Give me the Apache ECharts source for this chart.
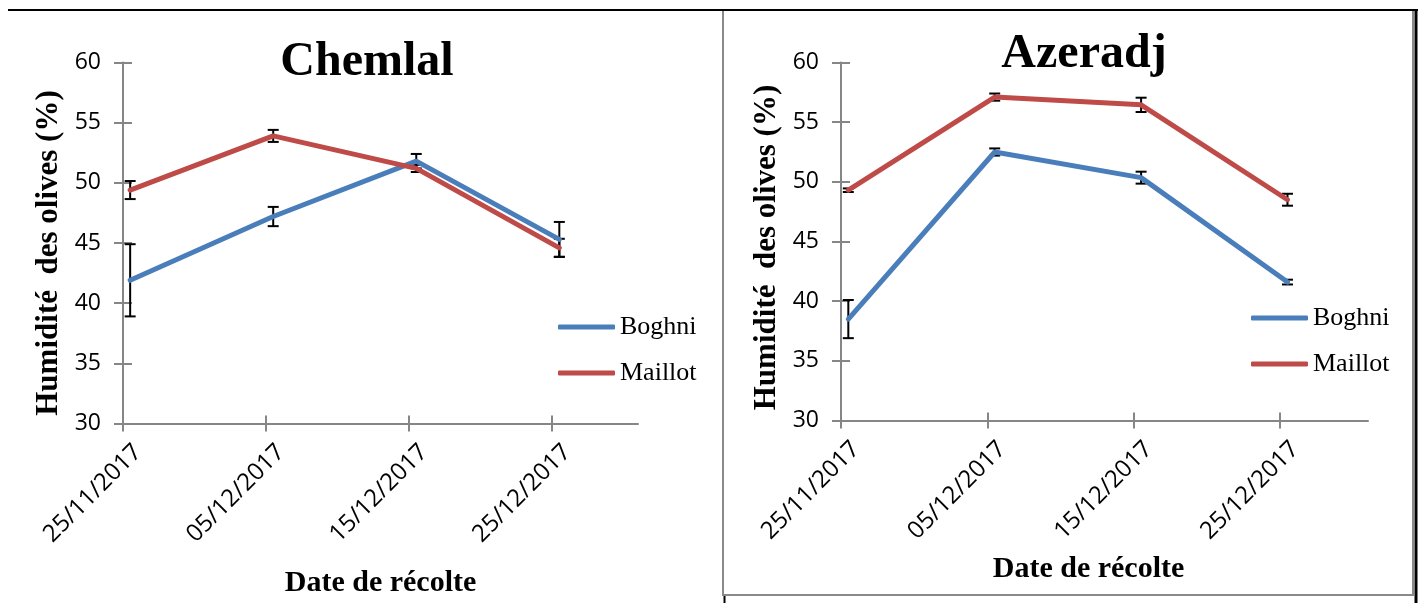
<!DOCTYPE html>
<html>
<head>
<meta charset="utf-8">
<script src="https://cdn.jsdelivr.net/npm/echarts@6/dist/echarts.min.js"></script>
<style>
html,body{margin:0;padding:0;background:#fff;}
#chart{width:1422px;height:603px;}
</style>
</head>
<body>
<div id="chart"></div>
<script>
// ---- data ----
const dates = ['25/11/2017', '05/12/2017', '15/12/2017', '25/12/2017'];
const tickLabels = ['25/11/2017', '05/12/2017', '15/12/2017', '25/12/2017'];
const axisEndDate = '31/12/2017';
const yTicks = [30, 35, 40, 45, 50, 55, 60];
const seriesNames = ['Boghni', 'Maillot'];
const panelTitles = ['Chemlal', 'Azeradj'];

const chemlalBoghni = [41.9, 47.2, 51.8, 45.3];
const chemlalBoghniErr = [3.0, 0.8, 0.6, 1.45];
const chemlalMaillot = [49.4, 53.9, 51.2, 44.6];
const chemlalMaillotErr = [0.75, 0.5, 0.3, 0.75];

const azeradjBoghni = [38.5, 52.5, 50.35, 41.6];
const azeradjBoghniErr = [1.6, 0.3, 0.5, 0.2];
const azeradjMaillot = [49.3, 57.1, 56.45, 48.5];
const azeradjMaillotErr = [0.15, 0.3, 0.6, 0.5];

// ---- helpers ----
function dayNum(s) {
  const p = s.split('/');
  return Date.UTC(+p[2], +p[1] - 1, +p[0]) / 86400000;
}
const day0 = dayNum(dates[0]);
const xMax = dayNum(axisEndDate) - day0;
// Excel date axis: points sit in the middle of their day
const xs = dates.map(d => dayNum(d) - day0 + 0.5);
const tickVals = tickLabels.map(d => dayNum(d) - day0);

const BLUE = '#4a7ebb';
const RED = '#be4b48';
const AXIS = '#868686';
const SERIF = '"Liberation Serif", "Times New Roman", serif';
const SANS = '"Open Sans", "Noto Sans", sans-serif';

const grids = [
  { left: 123, top: 62.5, width: 515, height: 361, outerBoundsMode: 'none', containLabel: false },
  { left: 841, top: 62.5, width: 527, height: 358, outerBoundsMode: 'none', containLabel: false }
];

const xAxes = [], yAxes = [], series = [], titles = [], legends = [];

function pts(vals) { return vals.map((v, i) => [xs[i], v]); }
function errs(vals, e) { return vals.map((v, i) => [xs[i], v, e[i]]); }

function errorRender(params, api) {
  const x = api.value(0), y = api.value(1), e = api.value(2);
  const top = api.coord([x, y + e]);
  const bot = api.coord([x, y - e]);
  const hw = 5.5;
  const st = { stroke: '#000', lineWidth: 2 };
  return {
    type: 'group',
    children: [
      { type: 'line', shape: { x1: top[0], y1: top[1], x2: bot[0], y2: bot[1] }, style: st },
      { type: 'line', shape: { x1: top[0] - hw, y1: top[1], x2: top[0] + hw, y2: top[1] }, style: st },
      { type: 'line', shape: { x1: bot[0] - hw, y1: bot[1], x2: bot[0] + hw, y2: bot[1] }, style: st }
    ]
  };
}

const panels = [
  { b: chemlalBoghni, be: chemlalBoghniErr, m: chemlalMaillot, me: chemlalMaillotErr },
  { b: azeradjBoghni, be: azeradjBoghniErr, m: azeradjMaillot, me: azeradjMaillotErr }
];

panels.forEach((p, gi) => {
  const xi = gi * 2, yi = gi * 2;
  // main x axis (ticks outside, labels)
  xAxes.push({
    type: 'value', gridIndex: gi, position: 'bottom', min: 0, max: xMax,
    name: 'Date de récolte', nameLocation: 'middle', nameGap: gi === 0 ? 145 : 134,
    nameTextStyle: { fontFamily: SERIF, fontWeight: 'bold', fontSize: 30, color: '#000',
      padding: gi === 0 ? 0 : [0, 32, 0, 0] },
    axisLine: { show: true, lineStyle: { color: AXIS, width: 2 } },
    axisTick: { show: true, inside: false, length: 8, customValues: tickVals, lineStyle: { color: AXIS, width: 2 } },
    axisLabel: {
      show: true, rotate: 45, margin: 10, customValues: tickVals, verticalAlign: 'top', padding: [9, 0, 0, 0],
      fontFamily: SANS, fontSize: 24, color: '#000',
      formatter: v => tickLabels[tickVals.indexOf(v)] || ''
    },
    splitLine: { show: false }
  });
  // twin x axis (ticks inside)
  xAxes.push({
    type: 'value', gridIndex: gi, position: 'bottom', min: 0, max: xMax,
    axisLine: { show: false },
    axisTick: { show: true, inside: true, length: 8, customValues: tickVals, lineStyle: { color: AXIS, width: 2 } },
    axisLabel: { show: false }, splitLine: { show: false }
  });
  yAxes.push({
    type: 'value', gridIndex: gi, position: 'left', min: yTicks[0], max: yTicks[yTicks.length - 1], interval: 5,
    name: 'Humidité  des olives (%)', nameLocation: 'middle', nameGap: 59,
    nameTextStyle: { fontFamily: SERIF, fontWeight: 'bold', fontSize: 31, color: '#000',
      padding: gi === 0 ? [0, 20, 0, 0] : [0, 12, 0, 0] },
    axisLine: { show: true, lineStyle: { color: AXIS, width: 2 } },
    axisTick: { show: true, inside: false, length: 9, lineStyle: { color: AXIS, width: 2 } },
    axisLabel: { show: true, margin: 22, fontFamily: SANS, fontSize: 23, color: '#000' },
    splitLine: { show: false }
  });
  yAxes.push({
    type: 'value', gridIndex: gi, position: 'left', min: yTicks[0], max: yTicks[yTicks.length - 1], interval: 5,
    axisLine: { show: false },
    axisTick: { show: true, inside: true, length: 9, lineStyle: { color: AXIS, width: 2 } },
    axisLabel: { show: false }, splitLine: { show: false }
  });

  series.push({
    name: seriesNames[0], type: 'line', xAxisIndex: xi, yAxisIndex: yi, data: pts(p.b),
    showSymbol: false, symbol: 'none', z: 3,
    lineStyle: { color: BLUE, width: 5, cap: 'round', join: 'round' }, itemStyle: { color: BLUE }
  });
  series.push({
    name: seriesNames[1], type: 'line', xAxisIndex: xi, yAxisIndex: yi, data: pts(p.m),
    showSymbol: false, symbol: 'none', z: 3,
    lineStyle: { color: RED, width: 5, cap: 'round', join: 'round' }, itemStyle: { color: RED }
  });
  series.push({
    type: 'custom', xAxisIndex: xi, yAxisIndex: yi, data: errs(p.b, p.be), renderItem: errorRender, z: 2, silent: true
  });
  series.push({
    type: 'custom', xAxisIndex: xi, yAxisIndex: yi, data: errs(p.m, p.me), renderItem: errorRender, z: 2, silent: true
  });

  titles.push({
    text: panelTitles[gi], left: gi === 0 ? 362 : 1079, top: gi === 0 ? 34 : 26, textAlign: 'center',
    textStyle: { fontFamily: SERIF, fontWeight: 'bold', fontSize: 48, color: '#000' }
  });
  legends.push({
    orient: 'vertical', left: gi === 0 ? 558 : 1251, top: gi === 0 ? 314 : 305, padding: 0,
    itemWidth: 57, itemHeight: 5, itemGap: 20, itemTextGap: 4, icon: 'roundRect',
    data: seriesNames.slice(),
    textStyle: { fontFamily: SERIF, fontSize: 26, color: '#000' },
    selectedMode: false
  });
});

const chart = echarts.init(document.getElementById('chart'), null, { renderer: 'canvas' });
chart.setOption({
  animation: false,
  backgroundColor: '#fff',
  title: titles,
  legend: legends,
  grid: grids,
  xAxis: xAxes,
  yAxis: yAxes,
  series: series,
  graphic: [
    { type: 'rect', shape: { x: 723, y: 10, width: 690, height: 585 }, style: { fill: 'none', stroke: '#8a8a8a', lineWidth: 2 } },
    { type: 'line', shape: { x1: 8, y1: 10, x2: 1418, y2: 10 }, style: { stroke: '#000', lineWidth: 2 } },
    { type: 'line', shape: { x1: 1416, y1: 10, x2: 1416, y2: 603 }, style: { stroke: '#000', lineWidth: 3 } },
    { type: 'line', shape: { x1: 724.5, y1: 596, x2: 724.5, y2: 603 }, style: { stroke: '#000', lineWidth: 2 } }
  ]
});
</script>
</body>
</html>
